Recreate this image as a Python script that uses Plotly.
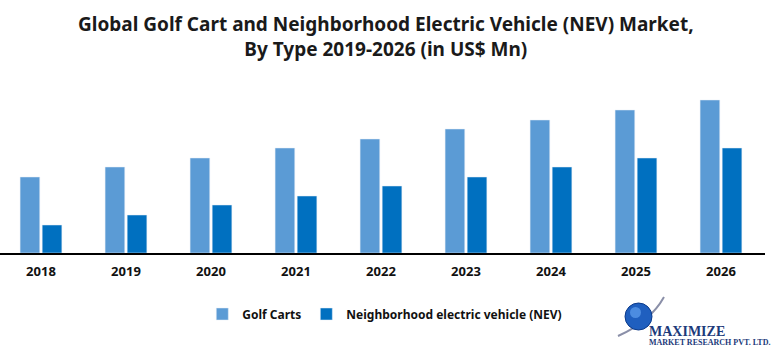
import plotly.graph_objects as go

years = ["2018", "2019", "2020", "2021", "2022", "2023", "2024", "2025", "2026"]
golf_carts = [76, 86, 95, 105, 114, 124, 133, 143, 153]
nev = [28, 38, 48, 57, 67, 76, 86, 95, 105]

PLOT_TOP, PLOT_BOT, PLOT_W = 90, 253, 765

def py(px):
    return (PLOT_BOT - px) / (PLOT_BOT - PLOT_TOP)

def pxr(x):
    return x / PLOT_W

fig = go.Figure()
fig.add_trace(go.Bar(x=years, y=golf_carts, name="Golf Carts", marker_color="#5B9BD5"))
fig.add_trace(go.Bar(x=years, y=nev, name="Neighborhood electric vehicle (NEV)", marker_color="#0070C0"))

fig.update_layout(
    width=776, height=352,
    margin=dict(l=0, r=11, t=90, b=99),
    paper_bgcolor="white", plot_bgcolor="white",
    barmode="group", bargap=0.48, bargroupgap=0.11,
    xaxis=dict(
        range=[-0.482, 8.518],
        showline=True, linecolor="black", linewidth=1.5,
        ticks="outside", ticklen=6, tickcolor="rgba(0,0,0,0)",
        tickfont=dict(family="Noto Sans", size=13, color="#111", weight="bold"),
        showgrid=False,
    ),
    yaxis=dict(visible=False, range=[0, 163], showgrid=False),
    legend=dict(
        orientation="h", x=0.503, xanchor="center", y=py(314), yanchor="middle",
        font=dict(family="Noto Sans", size=12, color="#111", weight="bold"),
        itemwidth=30, traceorder="normal",
    ),
    showlegend=True,
)

fig.add_annotation(
    x=0.505, y=py(36.5), xref="paper", yref="paper",
    text="Global Golf Cart and Neighborhood Electric Vehicle (NEV) Market,<br>By Type 2019-2026 (in US$ Mn)",
    showarrow=False, xanchor="center", yanchor="middle",
    font=dict(family="Noto Sans", size=19, color="#1a1a1a", weight="bold"),
)

# logo approximation
fig.add_shape(type="path", xref="paper", yref="paper",
              path=f"M {pxr(618)} {py(336)} Q {pxr(650)} {py(322)} {pxr(664)} {py(297)}",
              line=dict(color="#8A8FA8", width=2))
fig.add_shape(type="circle", xref="paper", yref="paper",
              x0=pxr(625), x1=pxr(652), y0=py(330), y1=py(303),
              fillcolor="#1F5FBF", line=dict(color="#0B3A8A", width=1))
fig.add_shape(type="circle", xref="paper", yref="paper",
              x0=pxr(630), x1=pxr(641), y0=py(318), y1=py(307),
              fillcolor="#5FA0EE", line=dict(width=0), opacity=0.7)
fig.add_annotation(x=pxr(647), y=py(331), xref="paper", yref="paper",
                   text="MAXIMIZE", showarrow=False, xanchor="left", yanchor="middle",
                   font=dict(family="Liberation Serif", size=14, color="#1C3A7A", weight="bold"))
fig.add_annotation(x=pxr(647), y=py(342.5), xref="paper", yref="paper",
                   text="MARKET RESEARCH PVT. LTD.", showarrow=False, xanchor="left", yanchor="middle",
                   font=dict(family="Liberation Serif", size=8, color="#1C3A7A", weight="bold"))

fig.write_html("out.html")
